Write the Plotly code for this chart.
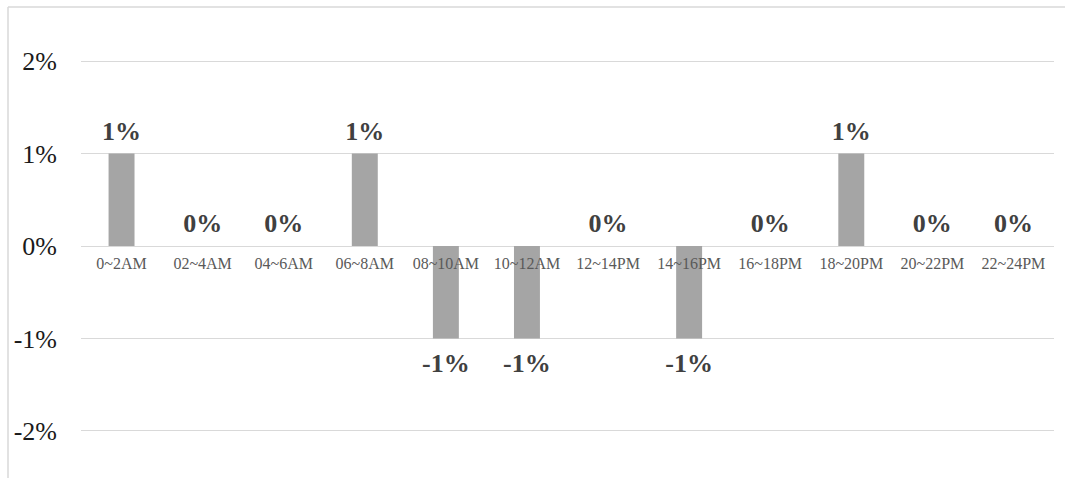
import plotly.graph_objects as go

# Two-hour time slots and the percentage change for each slot
slots = ["0~2AM", "02~4AM", "04~6AM", "06~8AM", "08~10AM", "10~12AM",
         "12~14PM", "14~16PM", "16~18PM", "18~20PM", "20~22PM", "22~24PM"]
change_pct = [1, 0, 0, 1, -1, -1, 0, -1, 0, 1, 0, 0]

y_ticks = [-2, -1, 0, 1, 2]
y_tick_text = ["-2%", "-1%", "0%", "1%", "2%"]

W, H = 1065, 478
ML, MR, MT, MB = 81, 11, 15, 1
plot_w = W - ML - MR
plot_h = H - MT - MB

SERIF = "Liberation Serif"
GRID = "#d9d9d9"

fig = go.Figure()

fig.add_trace(go.Bar(
    x=slots, y=change_pct,
    width=0.32,
    marker=dict(color="#a5a5a5", line=dict(width=0)),
    hoverinfo="skip",
))

# Value labels: above for non-negative, below for negative
pos = [v >= 0 for v in change_pct]
fig.add_trace(go.Scatter(
    x=slots, y=change_pct,
    mode="markers+text",
    text=[f"{v}%" for v in change_pct],
    textposition=["top center" if p else "bottom center" for p in pos],
    marker=dict(size=[10 if p else 21 for p in pos], opacity=0),
    textfont=dict(family=SERIF, size=26, color="#404040", weight="bold"),
    hoverinfo="skip",
    cliponaxis=False,
))

fig.update_layout(
    width=W, height=H,
    margin=dict(l=ML, r=MR, t=MT, b=MB),
    paper_bgcolor="white",
    plot_bgcolor="white",
    showlegend=False,
    xaxis=dict(
        anchor="free", position=0.5,
        showgrid=False, showline=False, zeroline=False, ticks="",
        tickfont=dict(family=SERIF, size=16, color="#595959"),
        ticklabelstandoff=6,
        range=[-0.5, len(slots) - 0.5],
    ),
    yaxis=dict(
        range=[-2.5, 2.5],
        tickvals=y_ticks, ticktext=y_tick_text,
        showgrid=True, gridcolor=GRID, gridwidth=1,
        zeroline=True, zerolinecolor=GRID, zerolinewidth=1,
        showline=False, ticks="",
        tickfont=dict(family=SERIF, size=26, color="#1a1a1a"),
        ticklabelstandoff=23,
    ),
)

# Light chart frame along the top and left edges
fx0 = (8 - ML) / plot_w
fy_top = 1 + (MT - 7) / plot_h
fig.add_shape(type="line", xref="paper", yref="paper",
              x0=fx0, x1=1 + (MR + 5) / plot_w, y0=fy_top, y1=fy_top,
              line=dict(color=GRID, width=1.5))
fig.add_shape(type="line", xref="paper", yref="paper",
              x0=fx0, x1=fx0, y0=fy_top, y1=-MB / plot_h - 0.01,
              line=dict(color=GRID, width=1.5))

fig.write_html("out.html")
